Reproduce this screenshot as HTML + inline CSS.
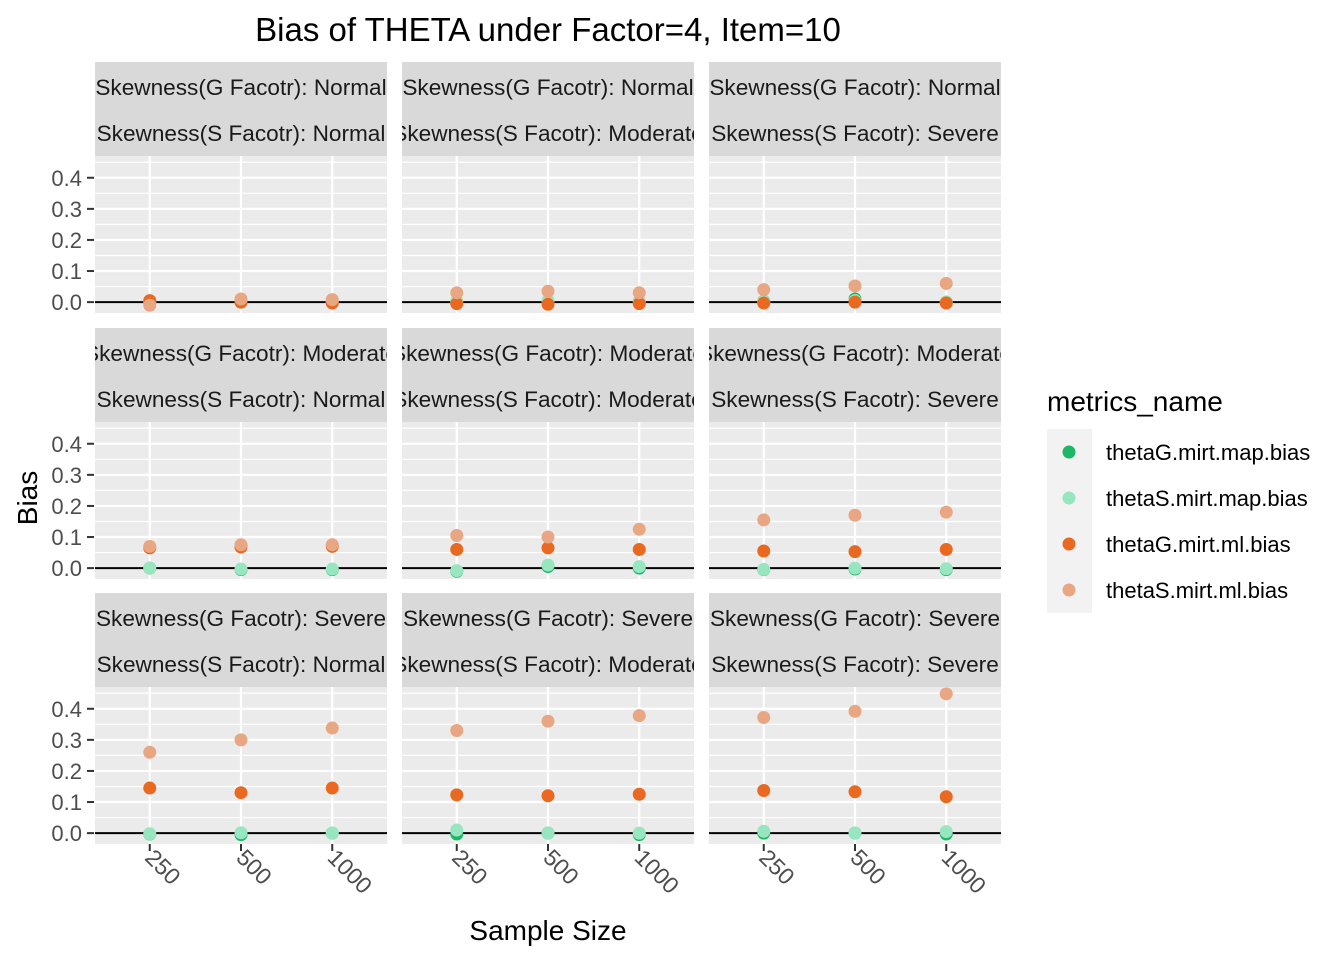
<!DOCTYPE html>
<html><head><meta charset="utf-8"><style>
html,body{margin:0;padding:0;background:#fff;}
svg{display:block;font-family:"Liberation Sans",Arial,sans-serif;}
</style></head><body>
<svg id="chart" width="1344" height="960">
<text x="548" y="41" font-size="33" text-anchor="middle" fill="#000">Bias of THETA under Factor=4, Item=10</text>
<text x="548" y="940" font-size="28" text-anchor="middle" fill="#000">Sample Size</text>
<text transform="translate(37,498) rotate(-90)" font-size="28" text-anchor="middle" fill="#000">Bias</text>
<g id="panels"></g>
<g>
<text x="1047" y="411" font-size="28" fill="#000">metrics_name</text>
<rect x="1047" y="429" width="45" height="184" fill="#f2f2f2"/>
<g id="legend-items"></g>
</g>
</svg>
<script>
const sizes = ["250","500","1000"];
const gStrips = ["Normal","Normal","Normal","Moderate","Moderate","Moderate","Severe","Severe","Severe"];
const sStrips = ["Normal","Moderate","Severe","Normal","Moderate","Severe","Normal","Moderate","Severe"];
const seriesNames = ["thetaG.mirt.map.bias","thetaS.mirt.map.bias","thetaG.mirt.ml.bias","thetaS.mirt.ml.bias"];
const seriesColors = ["#1db865","#98e6c0","#e8691f","#e8a682"];
const yTicks = [0,0.1,0.2,0.3,0.4];
const yTickLabels = ["0.0","0.1","0.2","0.3","0.4"];
const gMap = [[0,0,0],[0,0,0],[0.003,0.01,0],[0,-0.005,-0.005],[-0.01,0.005,0],[-0.005,-0.003,-0.005],[-0.003,-0.005,0],[-0.003,0,-0.005],[0,0,-0.003]];
const sMap = [[0,0,0],[0.003,0.005,0.003],[0.002,0.005,0],[0,-0.003,-0.003],[-0.008,0.01,0.005],[-0.004,0,-0.002],[-0.002,0.001,0],[0.01,0,0],[0.006,0,0.005]];
const gMl = [[0.005,0,-0.003],[-0.005,-0.007,-0.005],[-0.003,0,-0.003],[0.065,0.068,0.07],[0.06,0.065,0.06],[0.055,0.053,0.06],[0.145,0.13,0.145],[0.123,0.12,0.125],[0.137,0.133,0.117]];
const sMl = [[-0.01,0.01,0.008],[0.03,0.035,0.03],[0.04,0.052,0.06],[0.07,0.075,0.075],[0.105,0.1,0.125],[0.155,0.17,0.18],[0.26,0.3,0.338],[0.33,0.36,0.378],[0.372,0.392,0.448]];
const allSeries = [gMap,sMap,gMl,sMl];

const NS="http://www.w3.org/2000/svg";
function mk(tag,attrs,parent){const e=document.createElementNS(NS,tag);for(const k in attrs)e.setAttribute(k,attrs[k]);parent.appendChild(e);return e;}
const colX=[95,402,709], PW=292;
const rowTop=[62,328,593];
const yMin=-0.035,yMax=0.47;
const root=document.getElementById('panels');
for(let p=0;p<9;p++){
  const r=Math.floor(p/3),c=p%3;
  const x0=colX[c], st=rowTop[r], pt=st+94, pb=pt+157;
  const ys=v=>pb-(v-yMin)/(yMax-yMin)*(pb-pt);
  const xs=i=>x0+(0.6+i)*PW/3.2;
  const g=mk('g',{},root);
  
  
  const clipId='clip'+p;
  const cp=mk('clipPath',{id:clipId},g);mk('rect',{x:x0,y:st,width:PW,height:94},cp);
  const s1=mk('rect',{x:x0,y:st,width:PW,height:94,fill:'#d9d9d9'},g);
  
  
  const t1=mk('text',{x:x0+PW/2,y:st+33,'font-size':22.6,'text-anchor':'middle',fill:'#1a1a1a','clip-path':'url(#'+clipId+')'},g);
  t1.textContent='Skewness(G Facotr): '+gStrips[p];
  
  
  const t2=mk('text',{x:x0+PW/2,y:st+79,'font-size':22.6,'text-anchor':'middle',fill:'#1a1a1a','clip-path':'url(#'+clipId+')'},g);
  t2.textContent='Skewness(S Facotr): '+sStrips[p];
  
  
  const bg=mk('rect',{x:x0,y:pt,width:PW,height:pb-pt,fill:'#ebebeb'},g);
  
  
  for(let v=-0.05;v<=0.46;v+=0.1){const y=ys(v);if(y>pt&&y<pb)mk('line',{x1:x0,x2:x0+PW,y1:y,y2:y,stroke:'#fff','stroke-width':1.2},g);}
  yTicks.forEach(v=>mk('line',{x1:x0,x2:x0+PW,y1:ys(v),y2:ys(v),stroke:'#fff','stroke-width':2.2},g));
  sizes.forEach((s,i)=>mk('line',{x1:xs(i),x2:xs(i),y1:pt,y2:pb,stroke:'#fff','stroke-width':2.2},g));
  mk('line',{x1:x0,x2:x0+PW,y1:ys(0),y2:ys(0),stroke:'#000','stroke-width':2},g);
  allSeries.forEach((ser,si)=>{ser[p].forEach((v,i)=>{
    const pt_=mk('circle',{cx:xs(i),cy:ys(v),r:6.5,fill:seriesColors[si]},g);
    
    
  });});
  if(c===0){yTicks.forEach((v,i)=>{
    mk('line',{x1:87,x2:94,y1:ys(v),y2:ys(v),stroke:'#333','stroke-width':2},g);
    const tl=mk('text',{x:82,y:ys(v)+8,'font-size':22,'text-anchor':'end',fill:'#4d4d4d'},g);
    tl.textContent=yTickLabels[i];
    
    
  });}
  if(r===2){sizes.forEach((s,i)=>{
    mk('line',{x1:xs(i),x2:xs(i),y1:pb,y2:pb+7,stroke:'#333','stroke-width':2},g);
    const tl=mk('text',{transform:'translate('+(xs(i)-6)+','+(pb+15)+') rotate(45)','font-size':23,fill:'#4d4d4d'},g);
    tl.textContent=s;
    
    
  });}
}
const li=document.getElementById('legend-items');
seriesNames.forEach((n,i)=>{
  const y=452+i*46;
  const d=mk('circle',{cx:1069,cy:y,r:6.5,fill:seriesColors[i]},li);
  
  
  const t=mk('text',{x:1106,y:y+8,'font-size':22,fill:'#000'},li);
  t.textContent=n;
  
  
});
</script>
</body></html>
